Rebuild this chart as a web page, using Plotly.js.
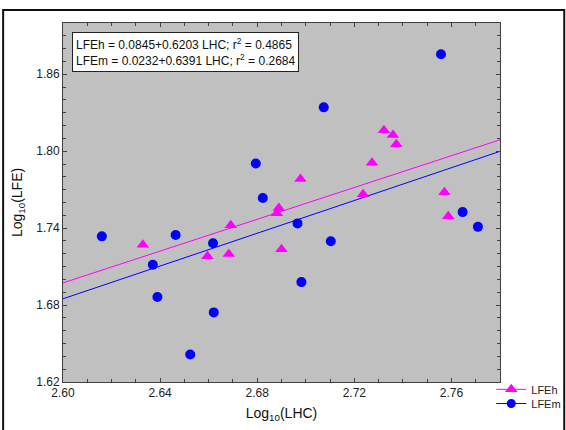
<!DOCTYPE html>
<html>
<head>
<meta charset="utf-8">
<script src="https://cdn.plot.ly/plotly-3.0.1.min.js"></script>
<style>html,body{margin:0;padding:0;background:#fff;}#chart{width:566px;height:430px;}</style>
</head>
<body>
<div id="chart"></div>
<script>
// LFEh (triangles)
const lfehX = [2.6329, 2.6595, 2.6683, 2.6691, 2.6881, 2.6889, 2.6900, 2.6978, 2.7236, 2.7273, 2.7322, 2.7359, 2.7373, 2.7571, 2.7587];
const lfehY = [1.7271, 1.7181, 1.7198, 1.7422, 1.7516, 1.7557, 1.7235, 1.7783, 1.7664, 1.7911, 1.8163, 1.8127, 1.8054, 1.7680, 1.7493];
// LFEm (circles)
const lfemX = [2.6160, 2.6370, 2.6389, 2.6464, 2.6524, 2.6618, 2.6621, 2.6794, 2.6823, 2.6966, 2.6982, 2.7074, 2.7103, 2.7557, 2.7646, 2.7709];
const lfemY = [1.7336, 1.7115, 1.6863, 1.7347, 1.6415, 1.7282, 1.6743, 1.7904, 1.7635, 1.7437, 1.6979, 1.8342, 1.7298, 1.8756, 1.7525, 1.7410];
// fitted lines read at the plot edges
const fitX = [2.60, 2.78];
const lfehFit = [1.6973, 1.8089];
const lfemFit = [1.6849, 1.7999];
const eqTexts = ["LFEh = 0.0845+0.6203 LHC; r<sup>2</sup> = 0.4865", "LFEm = 0.0232+0.6391 LHC; r<sup>2</sup> = 0.2684"];
const seriesNames = ["LFEh", "LFEm"];

const pink = "#FF00FF", blue = "#0000FF";
const font = "Liberation Sans, Arial, sans-serif";

const traces = [
  {x: fitX, y: lfehFit, mode: "lines", line: {color: pink, width: 1}, showlegend: false, hoverinfo: "skip"},
  {x: fitX, y: lfemFit, mode: "lines", line: {color: blue, width: 1}, showlegend: false, hoverinfo: "skip"},
  {x: lfehX, y: lfehY, mode: "markers", marker: {symbol: "triangle-up", size: 11, color: pink}, showlegend: false},
  {x: lfemX, y: lfemY, mode: "markers", marker: {symbol: "circle", size: 10, color: blue}, showlegend: false},
  {x: [null], y: [null], name: seriesNames[0], legend: "legend", mode: "lines+markers", line: {color: pink, width: 1}, marker: {symbol: "triangle-up", size: 11, color: pink}},
  {x: [null], y: [null], name: seriesNames[1], legend: "legend2", mode: "lines+markers", line: {color: blue, width: 1}, marker: {symbol: "circle", size: 9, color: blue}}
];

const axisCommon = {
  showgrid: false, zeroline: false, showline: true, linecolor: "#404040", linewidth: 1,
  mirror: "ticks", ticks: "inside", ticklen: 4, tickcolor: "#404040",
  tickfont: {family: font, size: 12, color: "#222"}
};

const legendCommon = {xanchor: "left", yanchor: "top", bgcolor: "rgba(0,0,0,0)",
  font: {family: font, size: 11, color: "#222"}, itemwidth: 30, tracegroupgap: 0};

const layout = {
  width: 566, height: 430,
  margin: {l: 63, r: 66, t: 23, b: 48, autoexpand: false},
  paper_bgcolor: "#fff", plot_bgcolor: "#C0C0C0",
  font: {family: font, color: "#222"},
  xaxis: Object.assign({}, axisCommon, {
    range: [2.60, 2.78], tick0: 2.60, dtick: 0.04, tickformat: ".2f",
    minor: {dtick: 0.01, ticks: "inside", ticklen: 3, tickcolor: "#404040"},
    title: {text: "Log<sub>10</sub>(LHC)", font: {family: font, size: 14, color: "#111"}, standoff: 8}
  }),
  yaxis: Object.assign({}, axisCommon, {
    range: [1.62, 1.90], tick0: 1.62, dtick: 0.06, tickformat: ".2f",
    minor: {dtick: 0.01, ticks: "inside", ticklen: 3, tickcolor: "#404040"},
    title: {text: "Log<sub>10</sub>(LFE)", font: {family: font, size: 14, color: "#111"}, standoff: 10}
  }),
  legend: Object.assign({}, legendCommon, {x: 0.98, y: 0.02}),
  legend2: Object.assign({}, legendCommon, {x: 0.98, y: -0.0195}),
  annotations: [{
    xref: "paper", yref: "paper", x: 0.021, y: 0.975, xanchor: "left", yanchor: "top",
    text: eqTexts.join("<br>"), align: "left", showarrow: false,
    font: {family: font, size: 12, color: "#111"},
    bgcolor: "#fff", bordercolor: "#222", borderwidth: 1, borderpad: 3
  }],
  shapes: [{
    type: "rect", xref: "paper", yref: "paper", x0: -0.137, x1: 1.147, y0: -0.2, y1: 1.036,
    line: {color: "#111", width: 2}, fillcolor: "rgba(0,0,0,0)", layer: "below"
  }]
};

Plotly.newPlot("chart", traces, layout, {displayModeBar: false, staticPlot: true});
</script>
</body>
</html>
